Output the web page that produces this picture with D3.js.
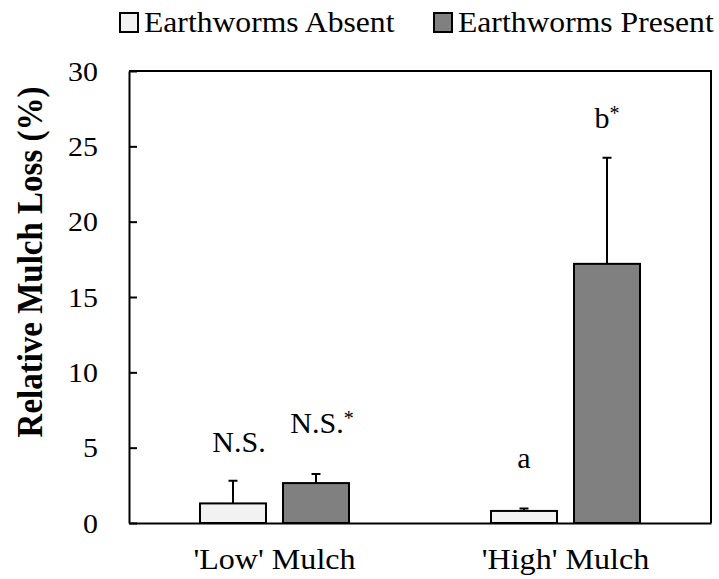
<!DOCTYPE html>
<html>
<head>
<meta charset="utf-8">
<script src="https://cdn.jsdelivr.net/npm/d3@7"></script>
<style>
  html, body { margin: 0; padding: 0; background: #fff; }
  svg text { font-family: "Liberation Serif", "Times New Roman", serif; }
</style>
</head>
<body>
<svg id="chart" width="719" height="579"></svg>
<script>
// ---- data ----
const categories = ["'Low' Mulch", "'High' Mulch"];
const seriesNames = ["Earthworms Absent", "Earthworms Present"];
const absentValues = [1.3, 0.8];
const absentErrors = [1.5, 0.17];
const presentValues = [2.65, 17.2];
const presentErrors = [0.6, 7.05];
const absentLabels = ["N.S.", "a"];
const presentLabels = ["N.S.", "b"];
const presentLabelStars = ["*", "*"];
const absentLabelY = [4.73, 3.65];
const presentLabelY = [5.99, 26.2];
const yTicks = [0, 5, 10, 15, 20, 25, 30];
const seriesColors = ["#f2f2f2", "#808080"];

// ---- layout ----
const svg = d3.select("#chart");
const pL = 129, pR = 711, pT = 71, pB = 523;
const SX = 1.07; // horizontal stretch of the original's lettering

const x0 = d3.scaleBand().domain(categories).range([pL, pR])
  .paddingInner(0.488).paddingOuter(0.244);
const x1 = d3.scaleBand().domain(seriesNames).range([0, x0.bandwidth()])
  .paddingInner(0.205);
const y = d3.scaleLinear().domain([0, 30]).range([pB, pT]);

const rows = categories.map((c, i) => ({
  cat: c,
  bars: [
    { s: seriesNames[0], v: absentValues[i], e: absentErrors[i], lab: absentLabels[i], star: "", ly: absentLabelY[i], fill: seriesColors[0] },
    { s: seriesNames[1], v: presentValues[i], e: presentErrors[i], lab: presentLabels[i], star: presentLabelStars[i], ly: presentLabelY[i], fill: seriesColors[1] }
  ]
}));

// frame (top and right)
svg.append("path")
  .attr("d", `M${pL},${y(30)}H${pR}V${y(0)}`)
  .attr("fill", "none").attr("stroke", "#000").attr("stroke-width", 2);

// bars
const g = svg.selectAll("g.cat").data(rows).join("g")
  .attr("class", "cat")
  .attr("transform", d => `translate(${x0(d.cat)},0)`);

// error bars
g.selectAll("path.err").data(d => d.bars).join("path")
  .attr("class", "err")
  .attr("d", d => {
    const cx = x1(d.s) + x1.bandwidth() / 2;
    return `M${cx},${y(d.v)}V${y(d.v + d.e)}M${cx - 4.5},${y(d.v + d.e)}H${cx + 4.5}`;
  })
  .attr("stroke", "#000").attr("stroke-width", 2).attr("fill", "none");

g.selectAll("rect").data(d => d.bars).join("rect")
  .attr("x", d => x1(d.s))
  .attr("y", d => y(d.v))
  .attr("width", x1.bandwidth())
  .attr("height", d => y(0) - y(d.v))
  .attr("fill", d => d.fill)
  .attr("stroke", "#000").attr("stroke-width", 2);

// annotation labels
const lab = g.selectAll("text.lab").data(d => d.bars).join("text")
  .attr("class", "lab")
  .attr("x", d => x1(d.s) + x1.bandwidth() / 2 + (d.lab.length > 1 ? 6 : 0))
  .attr("y", d => y(d.ly))
  .attr("text-anchor", "middle")
  .attr("font-size", 30)
  .attr("fill", "#000");
lab.append("tspan").text(d => d.lab);
lab.filter(d => d.star).append("tspan")
  .attr("font-size", 20).attr("dy", -8).text(d => d.star);

// y axis
const yAxis = d3.axisLeft(y).tickValues(yTicks).tickSizeInner(-8).tickSizeOuter(0).tickPadding(31);
const ya = svg.append("g").attr("transform", `translate(${pL},0)`).call(yAxis);
ya.select(".domain").attr("stroke", "#000").attr("stroke-width", 2);
ya.selectAll(".tick line").attr("stroke", "#000").attr("stroke-width", 2);
ya.selectAll(".tick text")
  .attr("font-family", "Liberation Serif, Times New Roman, serif")
  .attr("font-size", 28).attr("fill", "#000").attr("dy", "0.33em")
  .attr("x", 0).attr("transform", `translate(-31,0) scale(${SX},1)`);

// x axis
const xAxis = d3.axisBottom(x0).tickSize(0).tickPadding(0);
const xa = svg.append("g").attr("transform", `translate(0,${pB})`).call(xAxis);
xa.select(".domain").attr("stroke", "#000").attr("stroke-width", 2);
xa.selectAll(".tick text")
  .attr("font-family", "Liberation Serif, Times New Roman, serif")
  .attr("font-size", 30).attr("fill", "#000").attr("dy", 0).attr("y", 0)
  .attr("transform", `translate(0,46) scale(${SX},1)`);

// y title
svg.append("text")
  .attr("transform", `translate(42,262) rotate(-90) scale(1,${SX})`)
  .attr("text-anchor", "middle")
  .attr("font-size", 33).attr("font-weight", "bold").attr("fill", "#000")
  .text("Relative Mulch Loss (%)");

// legend
const legendX = [120, 434];
const lg = svg.selectAll("g.leg").data(seriesNames).join("g")
  .attr("class", "leg")
  .attr("transform", (d, i) => `translate(${legendX[i]},13)`);
lg.append("rect").attr("x", 0).attr("y", 0).attr("width", 18).attr("height", 19)
  .attr("fill", (d, i) => seriesColors[i]).attr("stroke", "#000").attr("stroke-width", 2);
lg.append("text")
  .attr("transform", `translate(24,19) scale(1.055,1)`)
  .attr("font-size", 30).attr("fill", "#000").text(d => d);
</script>
</body>
</html>
